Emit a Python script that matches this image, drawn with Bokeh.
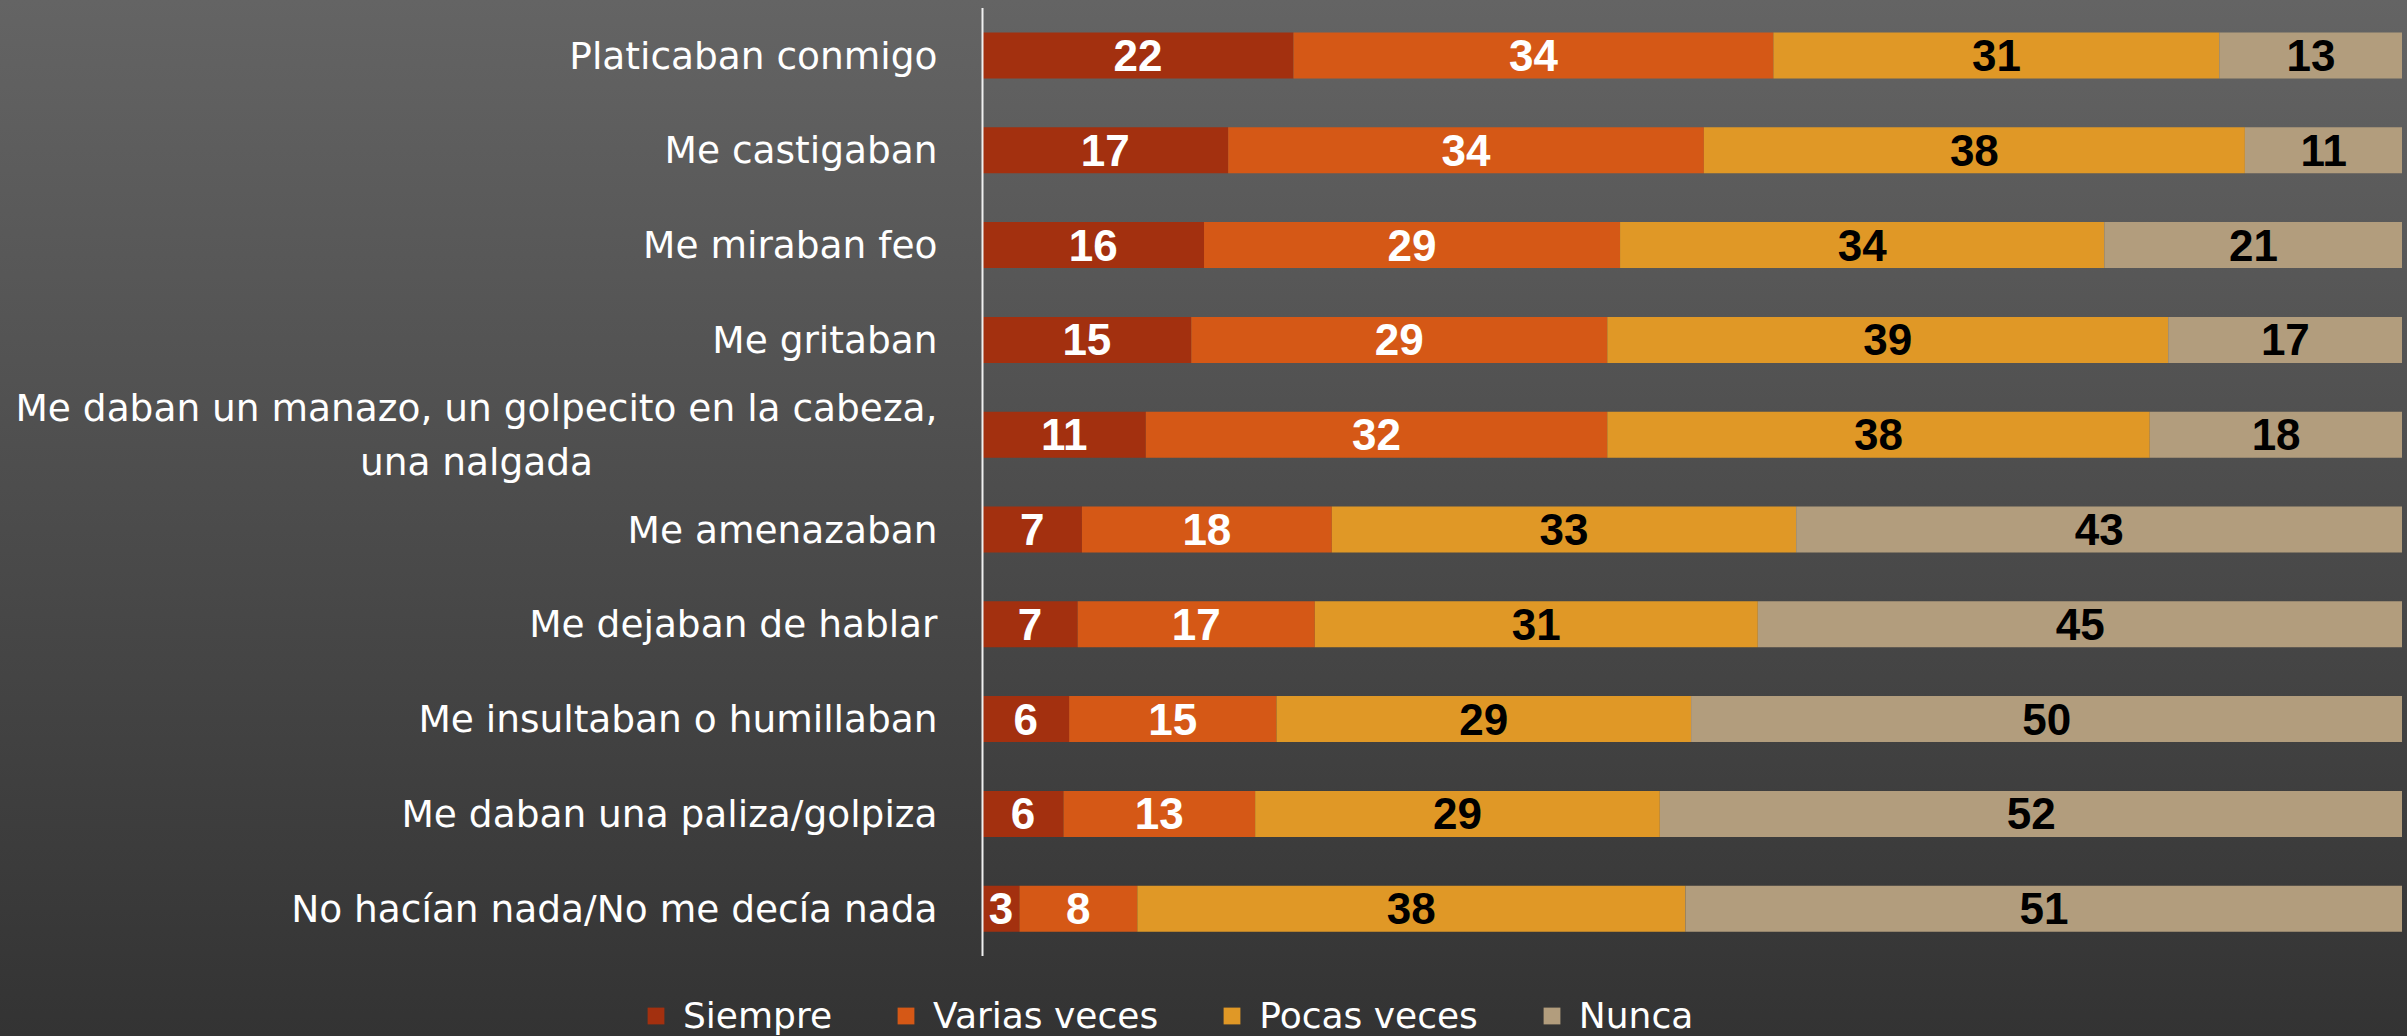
from bokeh.plotting import figure
from bokeh.models import (Range1d, Legend, LegendItem, ColumnDataSource,
                          GlobalInlineStyleSheet)
from bokeh.core.properties import value
from bokeh.embed import file_html
from bokeh.resources import INLINE

# ---------------- data ----------------
categories = [
    "Platicaban conmigo",
    "Me castigaban",
    "Me miraban feo",
    "Me gritaban",
    "Me daban un manazo, un golpecito en la cabeza,\nuna nalgada",
    "Me amenazaban",
    "Me dejaban de hablar",
    "Me insultaban o humillaban",
    "Me daban una paliza/golpiza",
    "No hacían nada/No me decía nada",
]
series_names = ["Siempre", "Varias veces", "Pocas veces", "Nunca"]

siempre = [21.9, 17.3, 15.6, 14.7, 11.5, 7.0, 6.7, 6.1, 5.7, 2.6]
varias = [33.8, 33.5, 29.3, 29.3, 32.5, 17.6, 16.7, 14.6, 13.5, 8.3]
pocas = [31.4, 38.1, 34.1, 39.5, 38.2, 32.7, 31.2, 29.2, 28.5, 38.6]
nunca = [12.9, 11.1, 21.0, 16.5, 17.8, 42.7, 45.4, 50.1, 52.3, 50.5]

labels_siempre = [22, 17, 16, 15, 11, 7, 7, 6, 6, 3]
labels_varias = [34, 34, 29, 29, 32, 18, 17, 15, 13, 8]
labels_pocas = [31, 38, 34, 39, 38, 33, 31, 29, 29, 38]
labels_nunca = [13, 11, 21, 17, 18, 43, 45, 50, 52, 51]

colors = ["#A3300F", "#D55816", "#E09826", "#B29D7D"]
label_colors = ["#ffffff", "#ffffff", "#000000", "#000000"]

# ---------------- layout constants ----------------
W, H = 2402, 1036
AXIS_X = 982                # pixel position of the value 0
PX_PER_UNIT = (W - AXIS_X) / 100.0
ROW_PX = 94.8               # vertical pitch of the rows
TOP_GAP = 7.6               # px between figure top and first row band
n = len(categories)
ypos = [n - 1 - i for i in range(n)]   # first category on top

keys = ["siempre", "varias", "pocas", "nunca"]
source = ColumnDataSource(dict(y=ypos, siempre=siempre, varias=varias,
                               pocas=pocas, nunca=nunca))

x_start = -AXIS_X / PX_PER_UNIT
y_top = n - 0.5 + TOP_GAP / ROW_PX
y_bottom = y_top - H / ROW_PX

p = figure(width=W, height=H,
           x_range=Range1d(x_start, 100), y_range=Range1d(y_bottom, y_top),
           output_backend="svg", toolbar_location=None,
           min_border_left=0, min_border_right=0,
           min_border_top=0, min_border_bottom=0)

p.background_fill_alpha = 0
p.border_fill_alpha = 0
p.outline_line_color = None
p.xaxis.visible = False
p.yaxis.visible = False
p.xgrid.visible = False
p.ygrid.visible = False
p.stylesheets = [GlobalInlineStyleSheet(css=(
    "html{min-height:100%;background:linear-gradient(180deg,#646464 0%,#333333 100%) fixed;}"
    "body{background:transparent;}"))]

renderers = p.hbar_stack(keys, y="y", height=0.485, color=colors,
                         line_color=None, source=source)

# vertical axis line at 0
p.segment(x0=[0], y0=[-0.5], x1=[0], y1=[n - 0.5], line_color="#f0f0f0", line_width=2)

# category labels (right-anchored block, lines centred)
p.text(x=[-45 / PX_PER_UNIT] * n, y=ypos, text=categories,
       anchor="center_right", text_align="center", text_baseline="middle",
       text_font=value("DejaVu Sans"), text_font_size="37.5px",
       text_color="#ffffff", text_line_height=1.22)

# segment labels
values_all = [siempre, varias, pocas, nunca]
labels_all = [labels_siempre, labels_varias, labels_pocas, labels_nunca]
left = [0.0] * n
for vals, labs, tcol in zip(values_all, labels_all, label_colors):
    centers = [l + v / 2 for l, v in zip(left, vals)]
    p.text(x=centers, y=ypos, text=[str(t) for t in labs],
           text_align="center", text_baseline="middle",
           text_font=value("Liberation Sans"), text_font_style="bold",
           text_font_size="44px", text_color=tcol)
    left = [l + v for l, v in zip(left, vals)]

# legend
legend = Legend(items=[LegendItem(label=s, renderers=[r]) for s, r in zip(series_names, renderers)],
                orientation="horizontal", location=(645, 0),
                background_fill_alpha=0, border_line_color=None,
                padding=0, margin=0, spacing=63, label_standoff=17,
                glyph_width=21, glyph_height=21,
                label_text_font="DejaVu Sans", label_text_font_size="36px",
                label_text_color="#ffffff")
p.add_layout(legend, "center")

open("out.html", "w").write(file_html(p, INLINE))
